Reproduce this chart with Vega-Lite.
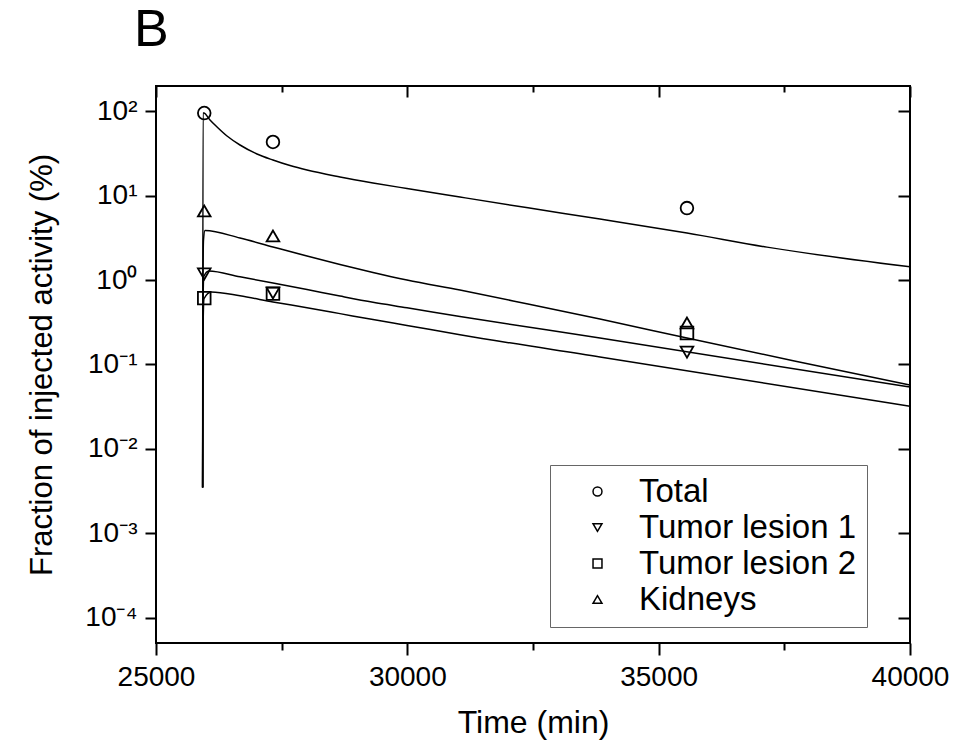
{
  "$schema": "https://vega.github.io/schema/vega-lite/v6.json",
  "width": 754,
  "height": 557,
  "autosize": "none",
  "padding": {"left": 156, "top": 86, "right": 48, "bottom": 105},
  "background": "white",
  "config": {
    "font": "Liberation Sans",
    "view": {"stroke": "black", "strokeWidth": 2},
    "axis": {
      "domain": false,
      "grid": false,
      "tickColor": "black",
      "tickWidth": 2,
      "labelColor": "black",
      "labelFont": "Liberation Sans",
      "labelFontSize": 28,
      "titleFont": "Liberation Sans",
      "titleFontSize": 31,
      "titleFontWeight": "normal",
      "titleColor": "black",
      "labelFlush": false,
      "labelOverlap": false
    }
  },
  "title": {
    "text": "B",
    "anchor": "start",
    "frame": "group",
    "fontSize": 52,
    "fontWeight": "normal",
    "font": "Liberation Sans",
    "color": "black",
    "baseline": "alphabetic",
    "offset": -13,
    "dx": -22
  },
  "datasets": {
    "curves": [
      {"t": 25928, "v": 0.0035, "series": "Total"},
      {"t": 25935, "v": 95, "series": "Total"},
      {"t": 25955, "v": 94.6, "series": "Total"},
      {"t": 26074, "v": 78.2, "series": "Total"},
      {"t": 26214, "v": 64.7, "series": "Total"},
      {"t": 26413, "v": 50.6, "series": "Total"},
      {"t": 26671, "v": 39.6, "series": "Total"},
      {"t": 27009, "v": 31.0, "series": "Total"},
      {"t": 27327, "v": 26.3, "series": "Total"},
      {"t": 27666, "v": 22.6, "series": "Total"},
      {"t": 28004, "v": 20.0, "series": "Total"},
      {"t": 28660, "v": 16.6, "series": "Total"},
      {"t": 29317, "v": 14.1, "series": "Total"},
      {"t": 29993, "v": 12.1, "series": "Total"},
      {"t": 31047, "v": 9.6, "series": "Total"},
      {"t": 32400, "v": 7.15, "series": "Total"},
      {"t": 33832, "v": 5.27, "series": "Total"},
      {"t": 35563, "v": 3.6, "series": "Total"},
      {"t": 37154, "v": 2.45, "series": "Total"},
      {"t": 40000, "v": 1.43, "series": "Total"},
      {"t": 25928, "v": 0.0035, "series": "Kidneys"},
      {"t": 25935, "v": 1.2, "series": "Kidneys"},
      {"t": 25945, "v": 3.0, "series": "Kidneys"},
      {"t": 25975, "v": 3.85, "series": "Kidneys"},
      {"t": 26671, "v": 3.14, "series": "Kidneys"},
      {"t": 27327, "v": 2.46, "series": "Kidneys"},
      {"t": 28004, "v": 1.92, "series": "Kidneys"},
      {"t": 28660, "v": 1.53, "series": "Kidneys"},
      {"t": 29317, "v": 1.23, "series": "Kidneys"},
      {"t": 29993, "v": 1.0, "series": "Kidneys"},
      {"t": 31047, "v": 0.76, "series": "Kidneys"},
      {"t": 32400, "v": 0.52, "series": "Kidneys"},
      {"t": 33832, "v": 0.345, "series": "Kidneys"},
      {"t": 35563, "v": 0.206, "series": "Kidneys"},
      {"t": 37700, "v": 0.11, "series": "Kidneys"},
      {"t": 40000, "v": 0.057, "series": "Kidneys"},
      {"t": 25928, "v": 0.0035, "series": "Tumor lesion 1"},
      {"t": 25935, "v": 0.5, "series": "Tumor lesion 1"},
      {"t": 25950, "v": 1.1, "series": "Tumor lesion 1"},
      {"t": 26050, "v": 1.28, "series": "Tumor lesion 1"},
      {"t": 26671, "v": 1.09, "series": "Tumor lesion 1"},
      {"t": 27327, "v": 0.92, "series": "Tumor lesion 1"},
      {"t": 28004, "v": 0.77, "series": "Tumor lesion 1"},
      {"t": 28660, "v": 0.645, "series": "Tumor lesion 1"},
      {"t": 29317, "v": 0.545, "series": "Tumor lesion 1"},
      {"t": 29993, "v": 0.47, "series": "Tumor lesion 1"},
      {"t": 31047, "v": 0.37, "series": "Tumor lesion 1"},
      {"t": 33832, "v": 0.206, "series": "Tumor lesion 1"},
      {"t": 40000, "v": 0.054, "series": "Tumor lesion 1"},
      {"t": 25928, "v": 0.0035, "series": "Tumor lesion 2"},
      {"t": 25935, "v": 0.25, "series": "Tumor lesion 2"},
      {"t": 25955, "v": 0.6, "series": "Tumor lesion 2"},
      {"t": 26100, "v": 0.72, "series": "Tumor lesion 2"},
      {"t": 26671, "v": 0.65, "series": "Tumor lesion 2"},
      {"t": 27327, "v": 0.55, "series": "Tumor lesion 2"},
      {"t": 28004, "v": 0.47, "series": "Tumor lesion 2"},
      {"t": 28660, "v": 0.40, "series": "Tumor lesion 2"},
      {"t": 29317, "v": 0.34, "series": "Tumor lesion 2"},
      {"t": 29993, "v": 0.29, "series": "Tumor lesion 2"},
      {"t": 31047, "v": 0.225, "series": "Tumor lesion 2"},
      {"t": 33832, "v": 0.123, "series": "Tumor lesion 2"},
      {"t": 40000, "v": 0.032, "series": "Tumor lesion 2"}
    ],
    "points": [
      {"t": 25960, "v": 94.6, "series": "Total"},
      {"t": 27327, "v": 43, "series": "Total"},
      {"t": 35563, "v": 7.1, "series": "Total"},
      {"t": 25960, "v": 1.18, "series": "Tumor lesion 1"},
      {"t": 27327, "v": 0.70, "series": "Tumor lesion 1"},
      {"t": 35563, "v": 0.14, "series": "Tumor lesion 1"},
      {"t": 25960, "v": 0.61, "series": "Tumor lesion 2"},
      {"t": 27327, "v": 0.69, "series": "Tumor lesion 2"},
      {"t": 35563, "v": 0.236, "series": "Tumor lesion 2"},
      {"t": 25960, "v": 6.56, "series": "Kidneys"},
      {"t": 27327, "v": 3.32, "series": "Kidneys"},
      {"t": 35563, "v": 0.31, "series": "Kidneys"}
    ]
  },
  "layer": [
    {
      "data": {"name": "curves"},
      "mark": {"type": "line", "color": "black", "strokeWidth": 1.5, "clip": true, "interpolate": "monotone"},
      "encoding": {
        "x": {
          "field": "t", "type": "quantitative",
          "scale": {"domain": [25000, 40000], "nice": false, "zero": false},
          "axis": {
            "orient": "bottom",
            "title": "Time (min)",
            "titleFontSize": 32,
            "values": [25000, 27500, 30000, 32500, 35000, 37500, 40000],
            "labelExpr": "datum.value % 5000 === 0 ? format(datum.value, 'd') : ''",
            "tickSize": {"condition": {"test": "datum.value % 5000 === 0", "value": 12}, "value": 7},
            "labelPadding": 8,
            "titlePadding": 16
          }
        },
        "y": {
          "field": "v", "type": "quantitative",
          "scale": {"type": "log", "domain": [5.058e-5, 197.7], "nice": false},
          "axis": {
            "orient": "left",
            "title": "Fraction of injected activity (%)",
            "values": [0.0001, 0.001, 0.01, 0.1, 1, 10, 100],
            "labelExpr": "datum.value >= 99 ? '10²' : datum.value >= 9 ? '10¹' : datum.value >= 0.9 ? '10⁰' : datum.value >= 0.09 ? '10⁻¹' : datum.value >= 0.009 ? '10⁻²' : datum.value >= 0.0009 ? '10⁻³' : '10⁻⁴'",
            "tickSize": 11,
            "labelPadding": 8,
            "titlePadding": 26
          }
        },
        "detail": {"field": "series", "type": "nominal"}
      }
    },
    {
      "data": {"name": "points"},
      "mark": {"type": "point", "filled": false, "color": "black", "strokeWidth": 1.8, "size": 160, "opacity": 1},
      "encoding": {
        "x": {
          "field": "t", "type": "quantitative",
          "axis": {
            "orient": "top",
            "title": null,
            "labels": false,
            "values": [25000, 27500, 30000, 32500, 35000, 37500, 40000],
            "tickSize": {"condition": {"test": "datum.value % 5000 === 0", "value": -11}, "value": -6}
          }
        },
        "y": {
          "field": "v", "type": "quantitative",
          "axis": {
            "orient": "right",
            "title": null,
            "labels": false,
            "values": [0.0001, 0.001, 0.01, 0.1, 1, 10, 100],
            "tickSize": -12
          }
        },
        "shape": {
          "field": "series", "type": "nominal",
          "scale": {
            "domain": ["Total", "Tumor lesion 1", "Tumor lesion 2", "Kidneys"],
            "range": ["circle", "triangle-down", "square", "triangle-up"]
          },
          "legend": {
            "orient": "none",
            "legendX": 394,
            "legendY": 379,
            "title": null,
            "direction": "vertical",
            "padding": 10,
            "strokeColor": "#666666",
            "fillColor": "white",
            "labelFont": "Liberation Sans",
            "labelFontSize": 33,
            "labelColor": "black",
            "labelLimit": 400,
            "symbolSize": 80,
            "symbolStrokeWidth": 1.5,
            "symbolFillColor": "transparent",
            "symbolStrokeColor": "black",
            "symbolOffset": 21,
            "labelOffset": 25,
            "rowPadding": 2
          }
        }
      }
    }
  ],
  "resolve": {"axis": {"x": "independent", "y": "independent"}}
}
